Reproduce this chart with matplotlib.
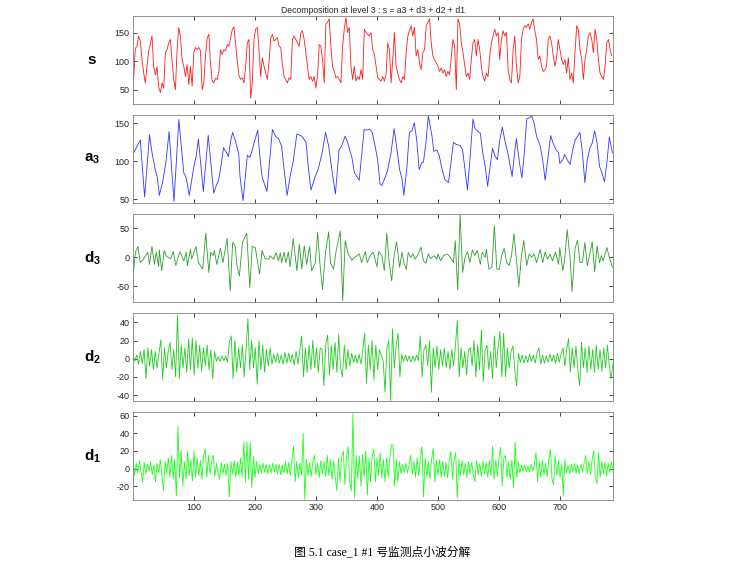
"""Wavelet decomposition (level 3) of monitoring point #1: s = a3 + d3 + d2 + d1."""
import matplotlib
matplotlib.use("Agg")
import matplotlib.pyplot as plt
import numpy as np

plt.rcParams["font.family"] = ["Liberation Sans", "DejaVu Sans"]
plt.rcParams["axes.unicode_minus"] = False
plt.rcParams["mathtext.fontset"] = "custom"
plt.rcParams["mathtext.bf"] = "Liberation Sans:bold"
plt.rcParams["mathtext.rm"] = "Liberation Sans"

N_SAMPLES = 786

# signal s, read every ~2.7 samples from sample 2 to 784
s_vals = [68, 122, 126, 144, 135, 103, 80, 62, 90, 118, 130, 144, 90, 76, 90, 55, 45, 62, 53, 115,
          120, 132, 138, 100, 68, 50, 120, 159, 144, 103, 91, 73, 94, 59, 91, 56, 115, 124, 120, 124,
          118, 50, 62, 110, 140, 147, 95, 65, 62, 70, 68, 82, 120, 112, 120, 118, 129, 126, 140, 155,
          160, 130, 100, 75, 68, 71, 62, 91, 132, 138, 35, 62, 138, 156, 159, 120, 73, 106, 91, 79,
          68, 100, 140, 147, 135, 138, 141, 126, 124, 94, 73, 68, 62, 71, 68, 138, 144, 138, 132, 126,
          150, 153, 138, 115, 91, 68, 73, 65, 73, 53, 73, 129, 126, 103, 62, 165, 168, 174, 126, 91,
          82, 71, 73, 68, 62, 126, 156, 176, 150, 159, 91, 68, 91, 65, 73, 68, 85,
          68, 156, 150, 147, 144, 150, 120, 112, 91, 71, 68, 65, 73, 65, 76, 132, 120, 62, 103, 150,
          91, 79, 68, 62, 73, 68, 115, 144, 153, 162, 144, 159, 109, 120, 97, 85, 115, 120, 162, 168,
          174, 132, 109, 103, 97, 91, 82, 88, 79, 85, 73, 82, 76, 106, 138, 126, 50, 174, 165, 132,
          115, 94, 73, 79, 68, 103, 132, 138, 109, 138, 120, 91, 73, 65, 79, 73, 109, 132, 144, 156,
          144, 150, 103, 138, 153, 144, 150, 85, 68, 62, 120, 144, 91, 62, 73, 138, 156, 162, 159, 165,
          156, 168, 174, 153, 138, 103, 109, 91, 82, 85, 91, 138, 144, 132, 109, 91, 106, 138, 120, 103,
          94, 103, 79, 106, 68, 79, 62, 115, 162, 156, 120, 103, 68, 103, 120, 144, 150, 138, 115, 156,
          138, 103, 79, 73, 68, 91, 132, 138, 120, 109]

# approximation a3: (sample, value) vertices
a3_x = [2, 13, 20, 28, 32, 37, 41, 44, 50, 55, 60, 68, 76, 84, 88, 93, 101, 104, 108, 116,
        124, 133, 138, 141, 146, 149, 155, 157, 161, 164, 168, 174, 176, 181, 188, 192, 195, 201, 205, 208,
        212, 214, 220, 229, 234, 239, 244, 248, 253, 258, 263, 269, 277, 284, 288, 292, 299, 304, 310, 316,
        321, 326, 332, 338, 342, 348, 352, 359, 363, 367, 371, 379, 383, 388, 392, 397, 401, 405, 408, 412,
        417, 423, 428, 432, 437, 441, 444, 449, 453, 457, 461, 465, 469, 473, 476, 480, 484, 490, 493, 498,
        502, 506, 511, 517, 521, 525, 530, 536, 540, 544, 548, 552, 557, 560, 564, 569, 573, 577, 581, 585,
        589, 593, 597, 600, 605, 609, 614, 618, 621, 625, 628, 633, 637, 640, 645, 649, 653, 657, 661, 667,
        671, 675, 680, 684, 688, 693, 697, 699, 704, 707, 711, 716, 720, 724, 728, 732, 736, 740, 744, 748,
        752, 756, 760, 764, 767, 772, 776, 780, 785]
a3_y = [111, 128, 53, 135, 112, 90, 78, 55, 75, 100, 139, 47, 155, 85, 78, 55, 95, 105, 129, 60,
        134, 58, 70, 75, 100, 118, 110, 106, 128, 138, 128, 110, 80, 48, 108, 105, 112, 130, 141, 110,
        80, 75, 60, 142, 133, 130, 120, 90, 55, 80, 100, 136, 133, 125, 90, 62, 80, 90, 110, 138,
        120, 90, 57, 115, 120, 133, 125, 105, 85, 80, 75, 142, 141, 142, 139, 120, 102, 70, 68, 76,
        87, 111, 143, 120, 89, 76, 55, 93, 138, 140, 151, 128, 89, 98, 99, 124, 160, 133, 113, 115,
        107, 91, 76, 72, 98, 125, 122, 121, 115, 89, 62, 102, 156, 144, 140, 137, 111, 93, 67, 93,
        117, 107, 102, 124, 145, 128, 111, 93, 80, 111, 130, 98, 78, 102, 156, 157, 160, 150, 133, 120,
        102, 75, 107, 134, 124, 115, 111, 97, 102, 109, 102, 96, 115, 128, 133, 138, 111, 72, 102, 117,
        124, 140, 124, 93, 87, 73, 98, 132, 111]

# detail d3: (sample, value) vertices
d3_x = [2, 5, 9, 13, 18, 21, 25, 28, 32, 36, 39, 43, 44, 48, 52, 55, 59, 63, 67, 71,
        76, 78, 84, 88, 90, 95, 97, 104, 108, 115, 120, 125, 128, 132, 134, 138, 144, 148, 155, 160,
        164, 168, 171, 175, 180, 187, 192, 196, 201, 208, 212, 217, 223, 225, 231, 235, 239, 242, 244, 248,
        251, 255, 258, 263, 269, 273, 277, 281, 285, 290, 293, 299, 303, 307, 311, 316, 321, 324, 329, 333,
        340, 344, 348, 353, 359, 363, 367, 371, 375, 381, 384, 389, 394, 400, 403, 408, 412, 416, 420, 424,
        428, 432, 437, 441, 444, 448, 451, 455, 459, 462, 466, 472, 476, 480, 484, 488, 493, 498, 500, 504,
        509, 515, 520, 525, 528, 532, 536, 540, 544, 548, 552, 556, 560, 564, 569, 572, 577, 579, 583, 588,
        592, 596, 600, 604, 608, 612, 616, 620, 624, 628, 632, 636, 640, 645, 649, 653, 657, 661, 667, 671,
        675, 679, 683, 687, 692, 697, 699, 704, 707, 711, 716, 719, 724, 728, 732, 736, 740, 744, 748, 752,
        756, 760, 764, 767, 770, 776, 780, 785]
d3_y = [-23, 9, 19, -9, -3, 2, 9, -12, 19, -12, 9, -16, 13, -23, 12, 3, 0, -2, 10, -14,
        4, 10, -6, 9, -14, 14, -3, 19, -9, -20, 42, -26, 9, 3, 12, -12, 16, -9, 33, -58,
        26, 20, -14, -32, 26, 42, -52, 19, 17, -29, 12, -2, -3, 3, -3, 8, -6, 8, -9, 9,
        -9, 9, -16, 33, -23, 23, -20, 20, -12, 19, -23, -10, 43, -15, -55, 10, 44, -10, -20, 10,
        46, -75, 29, 6, -5, 0, 3, 6, -9, 10, -9, 3, 9, -16, 10, 3, -23, 42, -9, -40,
        3, 27, -17, 9, -9, -21, 9, 0, 6, -3, 3, 18, -6, -10, 6, -2, 3, -3, 6, -6,
        3, 6, 0, -9, 29, -56, 75, -26, 0, 10, -9, 13, 3, 12, -12, 9, 0, 14, -20, -17,
        55, -20, -21, 3, 16, -9, -14, 3, 41, -3, -50, 0, 29, -14, 6, 0, 6, -9, 14, -9,
        9, -3, 6, -6, 9, -12, 17, -23, -3, 48, -3, -59, 16, 30, -9, -9, 26, -14, 6, 27,
        -25, 20, -9, 3, -6, 17, 0, -17]

# detail d2, read every ~3 samples
d2_vals = [5, -3, 4, -6, 8, -5, 10, -22, 12, -8,
           10, -12, 8, -10, 6, 21, -23, 12, -10, 8,
           18, -12, 10, -20, 48, -22, 15, -10, 12, -15,
           22, -12, 23, -18, 20, -10, 15, -14, 12, -8,
           15, -12, 10, -22, 8, -3, 2, -3, 3, -2,
           3, -4, 18, 25, -22, 20, -15, 12, -10, 15,
           -20, 10, 44, -12, 20, -10, 12, -28, 20, -12,
           15, -15, 10, -8, 12, -6, 5, -4, 6, -5,
           4, -6, 7, -5, 6, -4, 5, -7, 8, -6,
           10, 25, -20, 12, -15, 15, -12, 20, -10, 12,
           -15, 12, 10, -30, 15, 26, -18, 15, -12, 18,
           -15, 27, -10, -20, 15, -12, 10, -8, 6, -4,
           4, -5, 5, -6, 10, 28, -27, 15, -12, 20,
           -23, 15, -12, 10, 4, -3, -37, 12, 20, -46,
           33, -10, 15, 28, -20, 5, -3, 4, -3, 3,
           -4, 3, -3, 4, -2, 25, -20, 10, 15, -8,
           20, -37, 12, -10, 14, -12, 10, -8, 12, -10,
           8, -12, 10, -8, 15, 42, -20, 12, -10, 8,
           -18, 10, 12, -8, 20, -20, 15, -12, 32, -25,
           10, 15, -12, 8, -22, 25, -10, 12, 30, -20,
           28, -20, 12, -10, 8, 14, -12, -30, 6, -4,
           4, -5, 3, -4, 5, -3, 4, -5, 6, 12,
           -6, 4, -5, 3, -4, 5, -3, 4, -5, 6,
           -4, 5, 12, -8, 10, 22, -15, 12, -10, 14,
           -12, -30, 18, -10, 12, -15, 14, -12, 10, -15,
           15, -12, 10, -14, 12, -10, 15, -8, -22, -5]

# detail d1, read every ~2.6 samples
d1_vals = [12, -8, 6, -5, 9, -4, -15, 7, -6, 5,
           -3, 8, -7, 4, -15, 6, -5, 10, -8, -25,
           8, -6, 12, -10, 15, -12, 10, -31, 48, -10,
           20, -20, 8, -12, 20, -8, 10, -14, 20, -10,
           12, -8, 9, -12, 15, 22, -10, 15, -6, 8,
           15, -9, 6, -5, -12, 7, -6, 5, -8, 6,
           -32, 8, -6, 9, -10, 7, -8, 12, -10, 30,
           -15, 30, -12, 30, -22, 14, -10, 8, -6, 5,
           -5, 6, -4, 5, -6, 4, -5, 6, -4, 5,
           -6, 5, -7, 4, -5, 8, -6, 7, -8, 10,
           25, -15, 8, -10, 6, -8, 40, -35, 10, -8,
           7, -9, 8, 15, -7, 6, -10, 9, -6, 8,
           -9, 15, -8, 10, -12, 9, -10, -25, 12, -15,
           14, 20, -18, 12, 25, -15, -25, 62, -33, 15,
           -12, 14, -20, 16, -10, 20, -30, 12, -15, 14,
           22, -15, 12, -8, 18, -10, 10, -15, 12, -10,
           14, 27, 27, -20, 10, -15, 8, -6, 5, -4,
           6, -5, 4, 15, -6, 8, -10, 12, -8, 10,
           25, -32, 12, -10, 8, -12, 10, 23, -15, 10,
           -8, 10, -10, 8, -9, 7, -10, 9, 20, -12,
           10, 18, -33, 10, -8, 9, -7, 6, -10, 8,
           -6, 7, -8, -15, 9, -7, 6, -9, 8, -6,
           7, -10, 9, -8, 25, -12, 10, -9, 12, 24,
           -20, 12, 15, -10, 8, -12, 10, -22, 30, -10,
           8, -5, 4, -3, 4, -4, 3, -4, 5, -3,
           4, 18, -15, 8, -10, 9, -7, 6, -9, 10,
           22, -12, -18, 15, -8, 9, -10, 5, -30, 10,
           -5, 4, -6, 5, -4, 6, -5, 4, -6, 5,
           -4, 6, 15, -6, 8, -7, 10, 20, -10, -17,
           18, -10, 8, -6, 7, -8, 6, -5, 8, -4]

panel_labels = [r"$\mathbf{s}$", r"$\mathbf{a_3}$", r"$\mathbf{d_3}$", r"$\mathbf{d_2}$", r"$\mathbf{d_1}$"]
panel_colors = ["#ff1a1a", "#3333ff", "#2e9e2e", "#1fcc1f", "#1aff1a"]
panel_ylims = [(25, 179), (45, 161), (-77, 75), (-46.6, 50.3), (-35.6, 64)]
panel_yticks = [[50, 100, 150], [50, 100, 150], [-50, 0, 50],
                [-40, -20, 0, 20, 40], [-20, 0, 20, 40, 60]]
x_ticks = [100, 200, 300, 400, 500, 600, 700]

series = [
    (np.linspace(2, 784, len(s_vals)), s_vals),
    (a3_x, a3_y),
    (d3_x, d3_y),
    (np.linspace(1, N_SAMPLES, len(d2_vals)), d2_vals),
    (np.linspace(1, N_SAMPLES, len(d1_vals)), d1_vals),
]

W, H = 750, 565
fig = plt.figure(figsize=(W / 100, H / 100), dpi=100)

left, width, height = 133, 480, 88
tops = [16, 115, 214, 313, 412]

for i, (xs, ys) in enumerate(series):
    ax = fig.add_axes([left / W, 1 - (tops[i] + height) / H, width / W, height / H])
    ax.plot(xs, ys, color=panel_colors[i], lw=0.6)
    ax.set_xlim(1, N_SAMPLES)
    ax.set_ylim(*panel_ylims[i])
    ax.set_yticks(panel_yticks[i])
    ax.set_xticks(x_ticks)
    ax.tick_params(direction="in", length=3, width=0.6, labelsize=6.5, pad=2.5,
                   top=True, right=True, colors="#262626")
    if i < 4:
        ax.set_xticklabels([])
    for sp in ax.spines.values():
        sp.set_color("#808080")
        sp.set_linewidth(0.6)
    ax.text(-0.085, 0.5, panel_labels[i], transform=ax.transAxes,
            ha="center", va="center", fontsize=11)
    if i == 0:
        ax.set_title("Decomposition at level 3 : s = a3 + d3 + d2 + d1",
                     fontsize=6.2, pad=2, color="#262626")

fig.text(0.509, 1 - 552 / H, "图 5.1 case_1 #1 号监测点小波分解",
         ha="center", va="center", fontsize=8.5,
         family=["Liberation Serif", "Noto Sans CJK SC"])

fig.savefig("out.png", dpi=100)
